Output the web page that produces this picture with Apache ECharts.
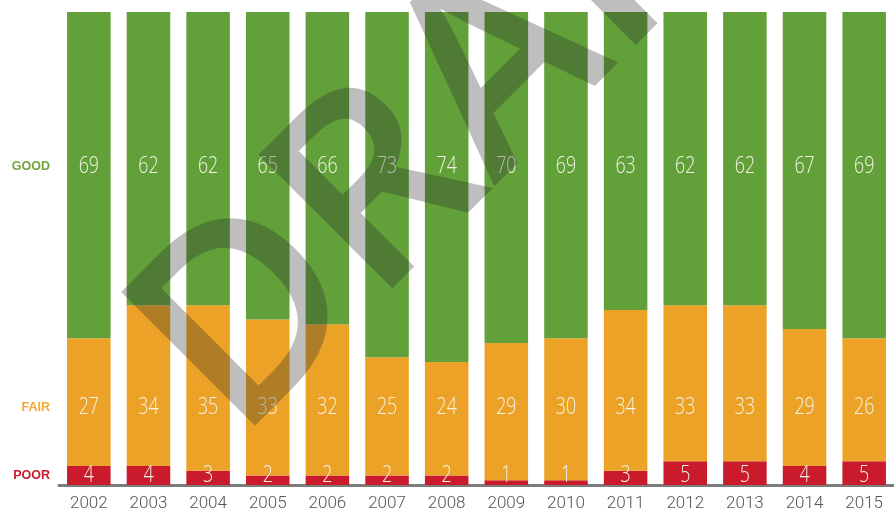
<!DOCTYPE html>
<html>
<head>
<meta charset="utf-8">
<script src="https://cdn.jsdelivr.net/npm/echarts@6/dist/echarts.min.js"></script>
<style>
  html, body { margin: 0; padding: 0; background: #fff; }
  #chart { width: 894px; height: 515px; }
</style>
</head>
<body>
<div id="chart"></div>
<script>
// Share of ratings per year (percent)
const years = ['2002', '2003', '2004', '2005', '2006', '2007', '2008', '2009', '2010', '2011', '2012', '2013', '2014', '2015'];
const good = [69, 62, 62, 65, 66, 73, 74, 70, 69, 63, 62, 62, 67, 69];
const fair = [27, 34, 35, 33, 32, 25, 24, 29, 30, 34, 33, 33, 29, 26];
const poor = [4, 4, 3, 2, 2, 2, 2, 1, 1, 3, 5, 5, 4, 5];
const rowNames = ['GOOD', 'FAIR', 'POOR'];

// Colours and the fixed height (in axis units) at which each row of value labels sits
const COLORS = { good: '#62a03a', fair: '#eba227', poor: '#c91b2c' };
const NAME_COLORS = { good: '#6fa53c', fair: '#f0a935', poor: '#c91b2c' };
const LEVELS = { good: 67.4, fair: 16.4, poor: 2.0 };

const chart = echarts.init(document.getElementById('chart'), null, { renderer: 'canvas' });

function barSeries(name, values, color) {
  return {
    name: name,
    type: 'bar',
    stack: 'total',
    barWidth: '73%',
    data: values,
    itemStyle: { color: color },
    emphasis: { disabled: true },
    z: 2
  };
}

// Value labels: a row of condensed numbers placed through the axes at a fixed level
function labelSeries(values, level) {
  return {
    type: 'custom',
    data: values.map((v, i) => [i, level, v]),
    renderItem: function (params, api) {
      const p = api.coord([api.value(0), api.value(1)]);
      return {
        type: 'text',
        x: p[0],
        y: p[1],
        scaleX: 0.74,
        style: {
          text: String(api.value(2)),
          font: '300 24px "Open Sans", Roboto, sans-serif',
          fill: '#f4f2e4',
          align: 'center',
          verticalAlign: 'middle'
        }
      };
    },
    silent: true,
    z: 5
  };
}

chart.setOption({
  animation: false,
  grid: { left: 59, top: 12, width: 842, height: 473 },
  xAxis: {
    type: 'category',
    data: years,
    axisLine: { show: true, lineStyle: { color: '#7c7c7c', width: 3 } },
    axisTick: { show: false },
    axisLabel: { color: '#555', fontSize: 17, fontFamily: 'Roboto, sans-serif', fontWeight: 300, margin: 10 }
  },
  yAxis: { type: 'value', min: 0, max: 100, show: false },
  series: [
    barSeries('POOR', poor, COLORS.poor),
    barSeries('FAIR', fair, COLORS.fair),
    barSeries('GOOD', good, COLORS.good),
    labelSeries(good, LEVELS.good),
    labelSeries(fair, LEVELS.fair),
    labelSeries(poor, LEVELS.poor)
  ]
});

// Row names at the left edge, aligned with each row of value labels
const keys = ['good', 'fair', 'poor'];
const rowTexts = keys.map((k, idx) => {
  const y = chart.convertToPixel({ gridIndex: 0 }, [0, LEVELS[k]])[1];
  return {
    type: 'text',
    x: 50,
    y: y,
    style: {
      text: rowNames[idx],
      font: 'bold 12.5px "Liberation Sans", Arial, sans-serif',
      fill: NAME_COLORS[k],
      align: 'right',
      verticalAlign: 'middle'
    },
    z: 10
  };
});

// Diagonal watermark across the plot
const watermark = {
  type: 'text',
  x: 184,
  y: 390,
  rotation: Math.PI / 4,
  style: {
    text: 'DRAFT',
    font: '600 265px "Open Sans", "DejaVu Sans", sans-serif',
    fill: 'rgba(40, 40, 40, 0.3)',
    align: 'left',
    verticalAlign: 'middle'
  },
  silent: true,
  z: 100
};

chart.setOption({ graphic: rowTexts.concat([watermark]) });
</script>
</body>
</html>
